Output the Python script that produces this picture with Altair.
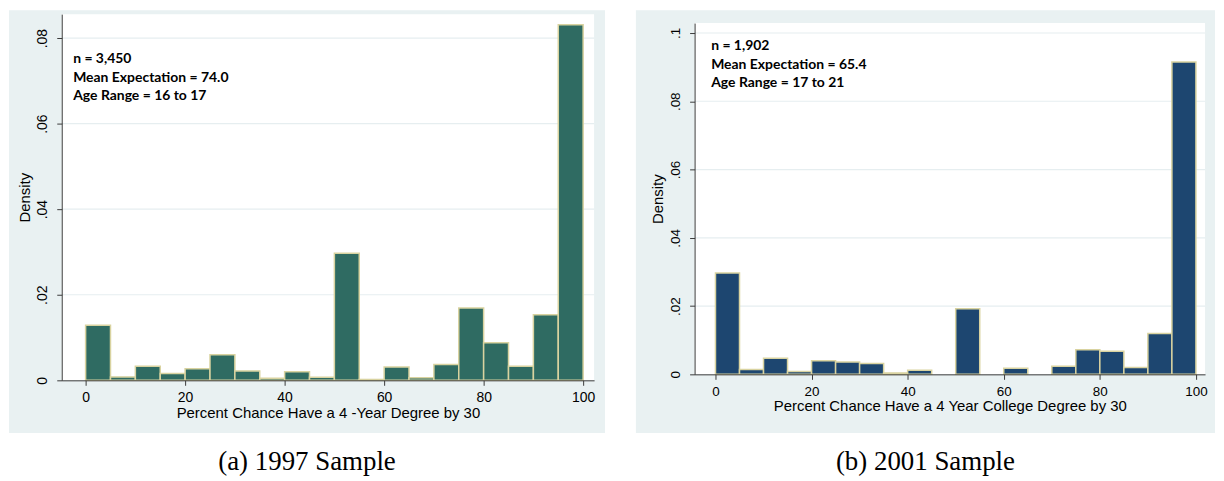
import altair as alt
import pandas as pd

# ---------------- data ----------------
bin_start = list(range(0, 100, 5))
bin_end = [b + 5 for b in bin_start]
dens_1997 = [0.0129, 0.0008, 0.0033, 0.0016, 0.0027, 0.0060, 0.0022, 0.0005, 0.0020, 0.0007,
             0.0297, 0.0002, 0.0031, 0.0006, 0.0037, 0.0169, 0.0088, 0.0033, 0.0153, 0.0831]
dens_2001 = [0.0297, 0.0014, 0.0047, 0.0008, 0.0040, 0.0036, 0.0032, 0.0004, 0.0012, 0.0000,
             0.0192, 0.0000, 0.0018, 0.0000, 0.0024, 0.0072, 0.0068, 0.0020, 0.0120, 0.0915]

x_ticks = [0, 20, 40, 60, 80, 100]
y_ticks_1997 = [0, 0.02, 0.04, 0.06, 0.08]
y_ticks_2001 = [0, 0.02, 0.04, 0.06, 0.08, 0.1]

notes_1997 = ["n = 3,450", "Mean Expectation = 74.0", "Age Range = 16 to 17"]
notes_2001 = ["n = 1,902", "Mean Expectation = 65.4", "Age Range = 17 to 21"]
notes_y_1997 = [0.0751, 0.0707, 0.0665]
notes_y_2001 = [0.0962, 0.0907, 0.0853]

xtitle_1997 = "Percent Chance Have a 4 -Year Degree by 30"
xtitle_2001 = "Percent Chance Have a 4 Year College Degree by 30"
caption_1997 = "(a) 1997 Sample"
caption_2001 = "(b) 2001 Sample"

BG = "#e9f1f2"
GRID = "#e6eef0"
EDGE = "#d9d3a0"
AXIS = "#3a3a3a"


def panel(dens, yticks, notes, notes_y, note_x, xtitle, caption, color,
          w, h, xdom, ydom, m_left, m_right, m_top, m_bottom, lab_fs):
    bars = pd.DataFrame({"x0": bin_start, "x1": bin_end, "d": dens})
    bars = bars[bars["d"] > 0]
    grid = pd.DataFrame({"g": [v for v in yticks if v > 0]})
    notes_df = pd.DataFrame({"t": notes, "y": notes_y, "x": [note_x] * len(notes)})
    one = pd.DataFrame({"k": [0]})

    xs = alt.Scale(domain=xdom, nice=False, zero=False)
    ys = alt.Scale(domain=ydom, nice=False, zero=False)

    xaxis = alt.Axis(values=x_ticks, title=xtitle, grid=False, zindex=1,
                     domainColor=AXIS, tickColor=AXIS, tickSize=5,
                     labelFont="Liberation Sans", labelFontSize=lab_fs,
                     labelColor="black", labelPadding=5,
                     titleFont="Liberation Sans", titleFontSize=15,
                     titleFontWeight="normal", titleColor="black",
                     titlePadding=1, labelFlush=False)
    yaxis = alt.Axis(values=yticks, title="Density", grid=False, zindex=1,
                     domainColor=AXIS, tickColor=AXIS, tickSize=5,
                     labelAngle=270, labelAlign="center", labelBaseline="bottom",
                     labelExpr="datum.value == 0 ? '0' : replace(format(datum.value, '.2~f'), '0.', '.')",
                     labelFont="Liberation Sans", labelFontSize=lab_fs,
                     labelColor="black", labelPadding=7, labelFlush=False,
                     titleFont="Liberation Sans", titleFontSize=15,
                     titleFontWeight="normal", titleColor="black",
                     titlePadding=3)

    frame = alt.Chart(one).mark_rect(color=BG).encode(
        x=alt.value(-m_left), x2=alt.value(w + m_right),
        y=alt.value(-m_top), y2=alt.value(h + m_bottom))
    plotbg = alt.Chart(one).mark_rect(color="white").encode(
        x=alt.value(0), x2=alt.value(w), y=alt.value(0), y2=alt.value(h))
    gridl = alt.Chart(grid).mark_rule(color=GRID, strokeWidth=1.2).encode(
        y=alt.Y("g:Q", scale=ys, axis=yaxis))

    hist = alt.Chart(bars).mark_rect(color=color, stroke=EDGE, strokeWidth=1.5).encode(
        x=alt.X("x0:Q", scale=xs, axis=xaxis),
        x2="x1:Q",
        y=alt.Y("d:Q", scale=ys, axis=yaxis),
        y2=alt.datum(0),
    )
    txt = alt.Chart(notes_df).mark_text(
        align="left", baseline="middle", font="Lato", fontWeight="bold",
        fontSize=14, color="black").encode(
        x=alt.X("x:Q", scale=xs, axis=xaxis), y=alt.Y("y:Q", scale=ys, axis=yaxis),
        text="t:N")

    return alt.layer(frame, plotbg, gridl, hist, txt).properties(
        width=w, height=h,
        title=alt.TitleParams(caption, orient="bottom", font="Liberation Serif",
                              fontSize=27, fontWeight="normal", color="black",
                              offset=16, anchor="middle", frame="bounds"))


pa = panel(dens_1997, y_ticks_1997, notes_1997, notes_y_1997, -2.5, xtitle_1997,
           caption_1997, "#2f6b62", 535, 368, [-4.8, 102.2], [0, 0.0856],
           53, 11, 4, 53, 14)
pb = panel(dens_2001, y_ticks_2001, notes_2001, notes_y_2001, -0.9, xtitle_2001,
           caption_2001, "#1d4670", 513, 353, [-4.35, 101.9], [0, 0.1029],
           59, 10, 13, 59, 13.5)

# invisible spacer that lowers panel (b)'s plot area relative to panel (a)
spacer = alt.Chart(pd.DataFrame({"k": [0]})).mark_point(opacity=0).encode(
    x=alt.value(0), y=alt.value(0)).properties(width=513, height=9)
pb_col = alt.vconcat(spacer, pb, spacing=0, bounds="flush")

chart = alt.concat(pa, pb_col, columns=2, spacing=29, align="none").properties(
    padding=0).configure_view(stroke=None, fill="white").configure(background="white")

chart.save("out.html", embed_options={"renderer": "svg", "actions": False})
